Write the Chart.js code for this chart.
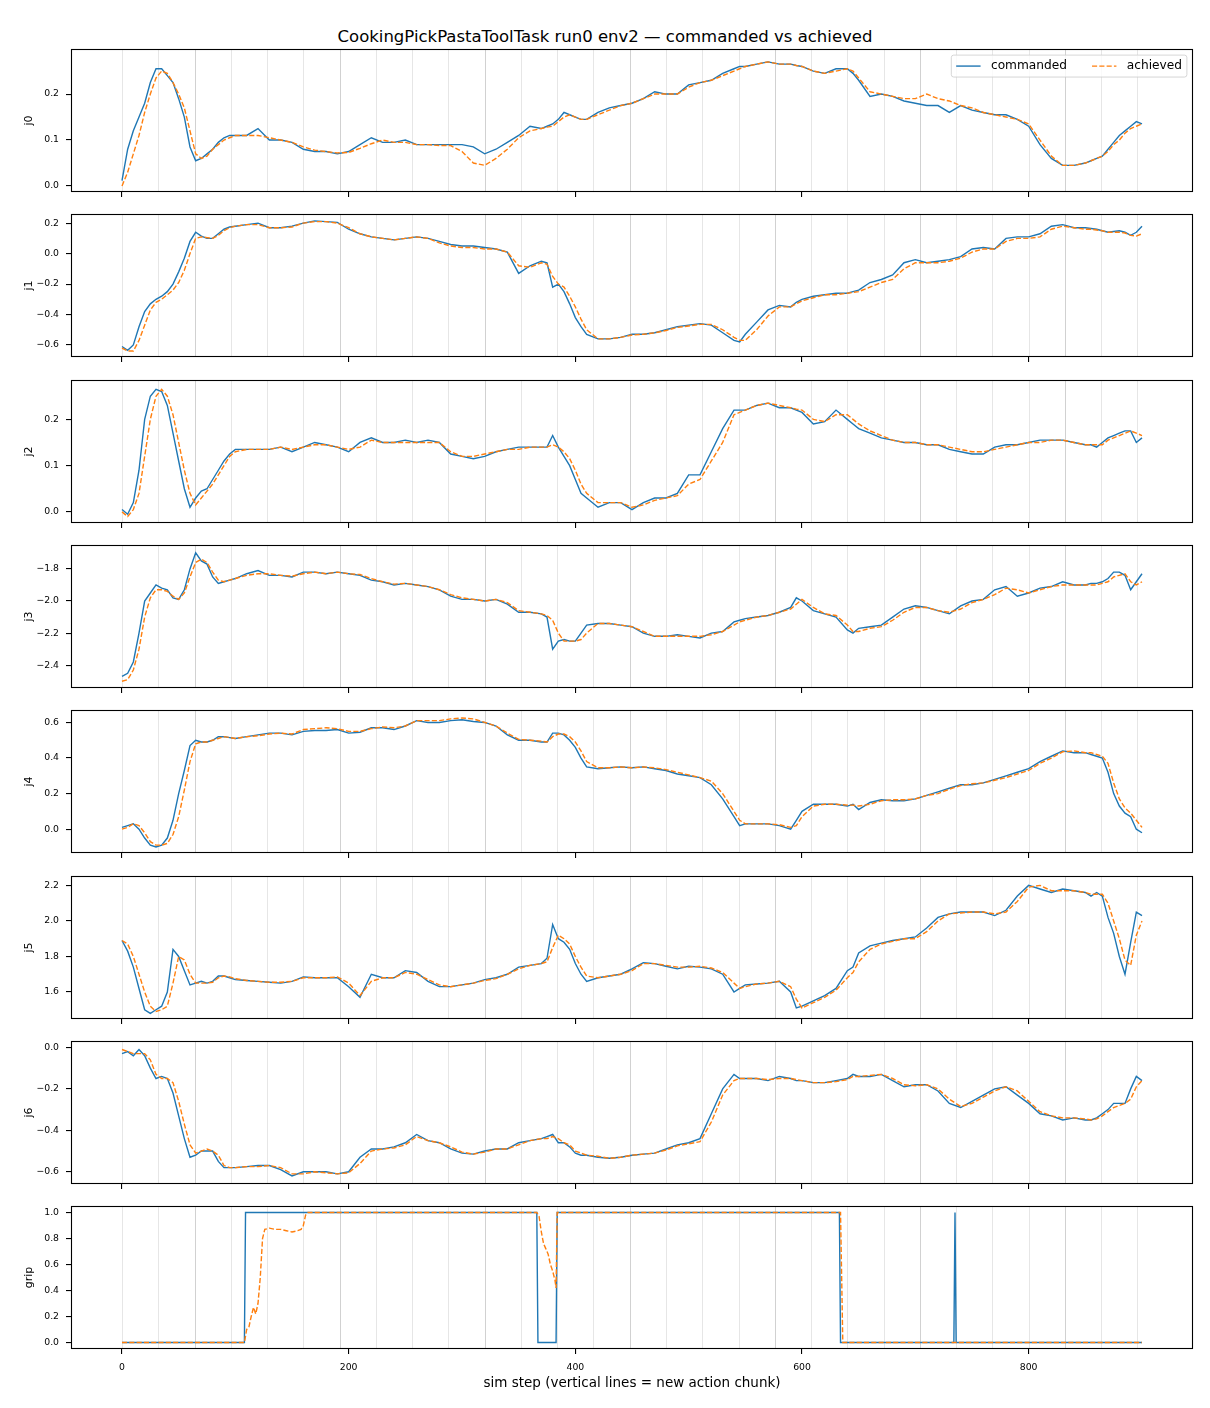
<!DOCTYPE html>
<html><head><meta charset="utf-8">
<script src="https://cdn.jsdelivr.net/npm/chart.js@4.4.1/dist/chart.umd.min.js"></script>
<style>
html,body{margin:0;padding:0;background:#fff;}
#fig{position:relative;width:1210px;height:1408px;overflow:hidden;background:#fff;}
.panel{position:absolute;left:0;width:1210px;}
#title{position:absolute;left:0;width:1210px;top:27px;line-height:20px;text-align:center;font-family:"DejaVu Sans";font-size:16.5px;color:#000;white-space:nowrap;}
</style></head><body>
<div id="fig"><div id="title">CookingPickPastaToolTask run0 env2 — commanded vs achieved</div></div>
<script>
// ---------------- data ----------------
const steps = [0,5,10,15,20,25,30,35,40,45,50,55,60,65,70,75,80,85,90,95,100,
  110,120,130,140,150,160,170,180,190,200,210,220,230,240,250,260,270,280,290,300,310,320,330,340,350,360,370,
  375,380,385,390,395,400,405,410,
  420,430,440,450,460,470,480,490,500,510,520,530,540,545,550,560,570,580,590,595,600,610,620,630,640,645,650,660,670,680,690,700,710,720,730,740,750,760,770,780,790,800,810,820,830,840,850,
  855,860,865,870,875,880,885,890,895,900];

const j0Cmd = [0.012,0.08,0.12,0.15,0.18,0.225,0.255,0.255,0.24,0.225,0.19,0.15,0.085,0.055,0.06,0.07,0.08,0.095,0.105,0.11,0.11,
  0.11,0.125,0.1,0.1,0.095,0.08,0.075,0.075,0.07,0.075,0.09,0.105,0.095,0.095,0.1,0.09,0.09,0.09,0.09,0.09,0.085,0.07,0.08,0.095,0.11,0.13,0.125,
  0.13,0.135,0.145,0.16,0.155,0.15,0.145,0.145,
  0.16,0.17,0.175,0.18,0.19,0.205,0.2,0.2,0.22,0.225,0.23,0.245,0.255,0.26,0.26,0.265,0.27,0.265,0.265,0.262,0.26,0.25,0.245,0.255,0.255,0.245,0.23,0.195,0.2,0.195,0.185,0.18,0.175,0.175,0.16,0.175,0.165,0.16,0.155,0.155,0.145,0.13,0.09,0.06,0.045,0.045,0.05,
  0.055,0.06,0.065,0.08,0.095,0.11,0.12,0.13,0.14,0.135];
const j0Ach = [0.0,0.03,0.07,0.11,0.16,0.2,0.235,0.25,0.245,0.225,0.2,0.17,0.12,0.07,0.06,0.065,0.08,0.09,0.1,0.105,0.11,
  0.11,0.11,0.105,0.1,0.095,0.085,0.078,0.075,0.072,0.073,0.082,0.092,0.1,0.095,0.095,0.09,0.09,0.088,0.088,0.075,0.05,0.045,0.06,0.08,0.105,0.12,0.125,
  0.128,0.13,0.14,0.15,0.155,0.15,0.145,0.145,
  0.155,0.165,0.175,0.18,0.19,0.2,0.2,0.2,0.215,0.225,0.23,0.24,0.25,0.255,0.26,0.265,0.27,0.265,0.265,0.262,0.26,0.25,0.245,0.25,0.255,0.25,0.235,0.205,0.2,0.195,0.19,0.19,0.2,0.19,0.185,0.175,0.17,0.16,0.155,0.15,0.145,0.135,0.1,0.065,0.045,0.045,0.05,
  0.055,0.06,0.065,0.075,0.09,0.1,0.115,0.125,0.13,0.135];

const j1Cmd = [-0.61,-0.635,-0.6,-0.48,-0.38,-0.33,-0.3,-0.28,-0.25,-0.2,-0.12,-0.03,0.08,0.14,0.115,0.1,0.1,0.13,0.16,0.175,0.18,
  0.19,0.2,0.17,0.17,0.18,0.2,0.215,0.21,0.205,0.16,0.13,0.11,0.1,0.09,0.1,0.11,0.1,0.08,0.06,0.05,0.05,0.04,0.03,0.01,-0.13,-0.08,-0.05,
  -0.06,-0.22,-0.2,-0.25,-0.33,-0.42,-0.48,-0.53,
  -0.56,-0.56,-0.55,-0.53,-0.53,-0.52,-0.5,-0.48,-0.47,-0.46,-0.47,-0.52,-0.57,-0.58,-0.53,-0.45,-0.37,-0.34,-0.35,-0.32,-0.3,-0.28,-0.27,-0.26,-0.26,-0.25,-0.24,-0.19,-0.17,-0.14,-0.06,-0.04,-0.06,-0.05,-0.04,-0.02,0.03,0.04,0.03,0.1,0.11,0.11,0.13,0.18,0.19,0.17,0.17,
  0.165,0.16,0.15,0.14,0.145,0.15,0.14,0.12,0.14,0.18];
const j1Ach = [-0.62,-0.64,-0.64,-0.57,-0.47,-0.37,-0.32,-0.3,-0.27,-0.24,-0.19,-0.11,0.0,0.1,0.11,0.105,0.1,0.12,0.15,0.17,0.18,
  0.19,0.19,0.17,0.17,0.175,0.2,0.21,0.21,0.2,0.17,0.13,0.11,0.1,0.09,0.1,0.11,0.1,0.07,0.05,0.04,0.04,0.03,0.03,0.01,-0.08,-0.09,-0.06,
  -0.07,-0.15,-0.2,-0.22,-0.28,-0.35,-0.43,-0.5,
  -0.56,-0.56,-0.55,-0.535,-0.53,-0.52,-0.505,-0.485,-0.475,-0.465,-0.465,-0.5,-0.55,-0.57,-0.57,-0.5,-0.41,-0.35,-0.35,-0.33,-0.31,-0.29,-0.27,-0.27,-0.26,-0.255,-0.25,-0.22,-0.19,-0.17,-0.1,-0.06,-0.06,-0.06,-0.05,-0.03,0.01,0.03,0.03,0.08,0.1,0.1,0.11,0.16,0.18,0.17,0.16,
  0.16,0.155,0.15,0.14,0.14,0.14,0.135,0.12,0.115,0.13];

const j2Cmd = [0.005,-0.005,0.02,0.09,0.2,0.25,0.265,0.26,0.23,0.17,0.11,0.05,0.01,0.03,0.045,0.05,0.07,0.09,0.11,0.125,0.135,
  0.135,0.135,0.135,0.14,0.13,0.14,0.15,0.145,0.14,0.13,0.15,0.16,0.15,0.15,0.155,0.15,0.155,0.15,0.125,0.12,0.115,0.12,0.13,0.135,0.14,0.14,0.14,
  0.14,0.165,0.14,0.12,0.1,0.07,0.04,0.03,
  0.01,0.02,0.02,0.005,0.02,0.03,0.03,0.04,0.08,0.08,0.13,0.18,0.22,0.22,0.22,0.23,0.235,0.225,0.225,0.22,0.215,0.19,0.195,0.22,0.2,0.19,0.18,0.17,0.16,0.155,0.15,0.15,0.145,0.145,0.135,0.13,0.125,0.125,0.14,0.145,0.145,0.15,0.155,0.155,0.155,0.15,0.145,
  0.145,0.14,0.15,0.16,0.165,0.17,0.175,0.175,0.15,0.16];
const j2Ach = [0.0,-0.01,0.005,0.04,0.12,0.2,0.25,0.265,0.25,0.21,0.15,0.09,0.04,0.015,0.03,0.045,0.06,0.08,0.1,0.12,0.13,
  0.135,0.135,0.135,0.14,0.135,0.14,0.145,0.145,0.14,0.135,0.14,0.155,0.15,0.15,0.15,0.15,0.15,0.15,0.13,0.12,0.12,0.125,0.13,0.135,0.135,0.14,0.14,
  0.14,0.145,0.14,0.13,0.115,0.09,0.06,0.04,
  0.02,0.02,0.02,0.01,0.015,0.025,0.03,0.035,0.06,0.07,0.11,0.15,0.21,0.215,0.22,0.23,0.235,0.23,0.225,0.222,0.22,0.2,0.195,0.21,0.21,0.2,0.19,0.175,0.165,0.155,0.15,0.15,0.145,0.145,0.14,0.135,0.13,0.13,0.135,0.14,0.145,0.15,0.15,0.155,0.155,0.15,0.145,
  0.145,0.145,0.145,0.155,0.16,0.165,0.17,0.175,0.17,0.165];

const j3Cmd = [-2.47,-2.45,-2.38,-2.2,-2.0,-1.95,-1.9,-1.92,-1.93,-1.98,-1.99,-1.93,-1.8,-1.7,-1.75,-1.77,-1.85,-1.89,-1.88,-1.87,-1.86,
  -1.83,-1.81,-1.84,-1.84,-1.85,-1.82,-1.82,-1.83,-1.82,-1.83,-1.84,-1.87,-1.88,-1.9,-1.89,-1.9,-1.91,-1.93,-1.97,-1.99,-1.99,-2.0,-1.99,-2.02,-2.07,-2.07,-2.08,
  -2.1,-2.3,-2.25,-2.24,-2.25,-2.25,-2.2,-2.15,
  -2.14,-2.14,-2.15,-2.16,-2.2,-2.22,-2.22,-2.21,-2.22,-2.23,-2.2,-2.19,-2.13,-2.12,-2.11,-2.1,-2.09,-2.07,-2.04,-1.98,-2.0,-2.06,-2.08,-2.1,-2.18,-2.2,-2.17,-2.16,-2.15,-2.1,-2.05,-2.03,-2.04,-2.06,-2.08,-2.03,-2.0,-1.99,-1.93,-1.91,-1.97,-1.95,-1.92,-1.91,-1.88,-1.9,-1.9,
  -1.89,-1.89,-1.88,-1.86,-1.82,-1.82,-1.84,-1.93,-1.88,-1.83];
const j3Ach = [-2.5,-2.49,-2.43,-2.3,-2.1,-1.98,-1.93,-1.93,-1.94,-1.97,-1.99,-1.95,-1.85,-1.76,-1.74,-1.76,-1.82,-1.87,-1.88,-1.87,-1.86,
  -1.84,-1.83,-1.83,-1.84,-1.845,-1.83,-1.82,-1.83,-1.82,-1.83,-1.835,-1.86,-1.88,-1.895,-1.89,-1.9,-1.91,-1.93,-1.96,-1.98,-1.99,-2.0,-1.99,-2.01,-2.06,-2.07,-2.08,
  -2.09,-2.12,-2.2,-2.25,-2.25,-2.25,-2.24,-2.2,
  -2.14,-2.14,-2.15,-2.16,-2.19,-2.22,-2.22,-2.22,-2.22,-2.22,-2.21,-2.19,-2.15,-2.13,-2.12,-2.1,-2.09,-2.07,-2.05,-2.02,-1.99,-2.04,-2.08,-2.09,-2.15,-2.19,-2.19,-2.17,-2.16,-2.12,-2.07,-2.04,-2.04,-2.06,-2.07,-2.05,-2.01,-1.99,-1.96,-1.92,-1.93,-1.95,-1.93,-1.91,-1.9,-1.9,-1.9,
  -1.9,-1.9,-1.89,-1.88,-1.85,-1.84,-1.83,-1.88,-1.9,-1.88];

const j4Cmd = [0.01,0.02,0.03,0.0,-0.05,-0.09,-0.1,-0.09,-0.05,0.05,0.2,0.33,0.47,0.5,0.49,0.49,0.5,0.52,0.52,0.515,0.51,
  0.52,0.53,0.54,0.54,0.53,0.55,0.555,0.555,0.56,0.54,0.545,0.57,0.57,0.56,0.58,0.61,0.6,0.6,0.61,0.615,0.605,0.6,0.58,0.53,0.5,0.5,0.49,
  0.49,0.54,0.54,0.53,0.5,0.46,0.4,0.35,
  0.34,0.345,0.35,0.345,0.35,0.34,0.33,0.31,0.3,0.29,0.25,0.17,0.07,0.02,0.03,0.03,0.03,0.02,0.0,0.05,0.1,0.14,0.14,0.14,0.13,0.14,0.11,0.15,0.165,0.16,0.16,0.17,0.19,0.21,0.23,0.25,0.25,0.26,0.28,0.3,0.32,0.34,0.38,0.41,0.44,0.43,0.43,
  0.42,0.41,0.4,0.32,0.2,0.13,0.09,0.07,0.0,-0.02];
const j4Ach = [0.0,0.01,0.03,0.02,-0.02,-0.07,-0.09,-0.09,-0.08,-0.03,0.07,0.22,0.38,0.48,0.49,0.49,0.5,0.51,0.52,0.515,0.51,
  0.52,0.525,0.535,0.54,0.535,0.56,0.565,0.57,0.565,0.55,0.55,0.565,0.575,0.57,0.58,0.61,0.61,0.61,0.62,0.625,0.62,0.6,0.58,0.54,0.505,0.5,0.495,
  0.49,0.52,0.535,0.535,0.52,0.49,0.44,0.38,
  0.345,0.345,0.35,0.345,0.35,0.345,0.335,0.32,0.305,0.29,0.27,0.2,0.1,0.05,0.03,0.03,0.03,0.025,0.01,0.02,0.07,0.13,0.14,0.14,0.135,0.135,0.13,0.14,0.16,0.165,0.165,0.17,0.19,0.2,0.225,0.245,0.255,0.26,0.275,0.29,0.31,0.33,0.37,0.4,0.435,0.44,0.43,
  0.43,0.42,0.41,0.37,0.26,0.17,0.12,0.09,0.05,0.01];

const j5Cmd = [1.89,1.83,1.74,1.62,1.5,1.48,1.5,1.52,1.6,1.84,1.8,1.72,1.64,1.65,1.66,1.65,1.66,1.69,1.69,1.68,1.67,
  1.665,1.66,1.655,1.65,1.66,1.685,1.68,1.68,1.68,1.63,1.57,1.7,1.68,1.68,1.72,1.71,1.66,1.63,1.63,1.64,1.65,1.67,1.68,1.7,1.74,1.75,1.76,
  1.79,1.98,1.9,1.88,1.84,1.76,1.7,1.66,
  1.68,1.69,1.7,1.73,1.765,1.76,1.745,1.73,1.745,1.74,1.73,1.7,1.6,1.62,1.64,1.645,1.65,1.66,1.6,1.51,1.52,1.55,1.58,1.62,1.72,1.74,1.82,1.86,1.875,1.89,1.9,1.91,1.96,2.02,2.04,2.05,2.05,2.05,2.03,2.06,2.14,2.2,2.18,2.16,2.18,2.17,2.16,
  2.14,2.16,2.14,2.02,1.93,1.8,1.7,1.88,2.05,2.03];
const j5Ach = [1.89,1.87,1.8,1.7,1.6,1.52,1.49,1.5,1.52,1.65,1.8,1.78,1.7,1.65,1.65,1.65,1.655,1.68,1.69,1.685,1.675,
  1.665,1.66,1.655,1.655,1.66,1.68,1.68,1.68,1.685,1.65,1.58,1.66,1.68,1.68,1.71,1.7,1.67,1.64,1.63,1.64,1.65,1.665,1.675,1.7,1.73,1.75,1.76,
  1.77,1.85,1.92,1.9,1.87,1.8,1.74,1.69,
  1.68,1.69,1.7,1.72,1.76,1.76,1.75,1.74,1.74,1.745,1.735,1.71,1.65,1.62,1.63,1.645,1.65,1.66,1.63,1.56,1.51,1.54,1.57,1.61,1.68,1.71,1.77,1.84,1.87,1.885,1.9,1.9,1.94,2.0,2.04,2.045,2.05,2.05,2.04,2.05,2.11,2.19,2.2,2.17,2.17,2.17,2.16,
  2.15,2.15,2.15,2.1,2.0,1.9,1.78,1.75,1.92,2.0];

const j6Cmd = [-0.03,-0.02,-0.04,-0.01,-0.04,-0.1,-0.15,-0.14,-0.15,-0.22,-0.33,-0.44,-0.53,-0.52,-0.5,-0.5,-0.5,-0.55,-0.58,-0.58,-0.58,
  -0.575,-0.57,-0.57,-0.59,-0.62,-0.6,-0.6,-0.6,-0.61,-0.6,-0.53,-0.49,-0.49,-0.48,-0.46,-0.42,-0.45,-0.46,-0.49,-0.51,-0.515,-0.5,-0.49,-0.49,-0.46,-0.45,-0.44,
  -0.43,-0.42,-0.46,-0.46,-0.48,-0.51,-0.52,-0.52,
  -0.53,-0.535,-0.53,-0.52,-0.515,-0.51,-0.49,-0.47,-0.46,-0.44,-0.32,-0.2,-0.13,-0.15,-0.15,-0.15,-0.16,-0.14,-0.15,-0.16,-0.16,-0.17,-0.17,-0.16,-0.15,-0.13,-0.14,-0.14,-0.13,-0.16,-0.19,-0.18,-0.18,-0.21,-0.27,-0.29,-0.26,-0.23,-0.2,-0.19,-0.23,-0.27,-0.32,-0.33,-0.35,-0.34,-0.35,
  -0.35,-0.34,-0.32,-0.3,-0.27,-0.27,-0.27,-0.2,-0.14,-0.16];
const j6Ach = [-0.01,-0.02,-0.03,-0.03,-0.03,-0.06,-0.13,-0.15,-0.15,-0.17,-0.26,-0.37,-0.47,-0.51,-0.5,-0.49,-0.5,-0.52,-0.57,-0.58,-0.58,
  -0.575,-0.575,-0.57,-0.58,-0.61,-0.61,-0.6,-0.605,-0.61,-0.605,-0.56,-0.5,-0.49,-0.485,-0.47,-0.43,-0.45,-0.46,-0.48,-0.505,-0.515,-0.505,-0.49,-0.49,-0.47,-0.45,-0.44,
  -0.44,-0.43,-0.44,-0.46,-0.47,-0.5,-0.51,-0.52,
  -0.525,-0.535,-0.53,-0.52,-0.515,-0.51,-0.495,-0.475,-0.465,-0.455,-0.36,-0.23,-0.16,-0.15,-0.15,-0.15,-0.155,-0.15,-0.15,-0.155,-0.16,-0.17,-0.17,-0.165,-0.155,-0.14,-0.14,-0.135,-0.13,-0.15,-0.18,-0.185,-0.18,-0.2,-0.25,-0.285,-0.27,-0.24,-0.21,-0.19,-0.21,-0.26,-0.31,-0.33,-0.34,-0.34,-0.345,
  -0.35,-0.345,-0.33,-0.31,-0.29,-0.28,-0.27,-0.25,-0.19,-0.16];

const gripCmdSteps = [0,108,109,366,367,383,384,633,634,734,735,736,900];
const gripCmd      = [0,0,1,1,0,0,1,1,0,0,1,0,0];
const gripAchSteps = [0,108,110,112,114,116,118,120,122,124,126,130,135,140,145,150,155,158,160,162,164,200,366,368,370,372,374,376,378,380,382,383,384,634,636,900];
const gripAch      = [0,0,0.1,0.12,0.2,0.27,0.22,0.3,0.5,0.8,0.87,0.88,0.87,0.87,0.86,0.85,0.86,0.87,0.9,0.98,1,1,1,0.97,0.85,0.76,0.72,0.68,0.6,0.55,0.48,0.42,1,1,0,0];

const chunkStarts = [0,32,64,96,128,160,192,224,256,288,320,352,384,416,448,480,512,544,576,608,640,672,704,736,768,800,832,864,896];
const repeatedChunks = [64,192,320,448,576,704,832];

const xTicks = [0,200,400,600,800];
const j0Ticks = [0.0,0.1,0.2];
const j1Ticks = [-0.6,-0.4,-0.2,0.0,0.2];
const j2Ticks = [0.0,0.1,0.2];
const j3Ticks = [-2.4,-2.2,-2.0,-1.8];
const j4Ticks = [0.0,0.2,0.4,0.6];
const j5Ticks = [1.6,1.8,2.0,2.2];
const j6Ticks = [-0.6,-0.4,-0.2,0.0];
const gripTicks = [0.0,0.2,0.4,0.6,0.8,1.0];

const panelNames = ['j0','j1','j2','j3','j4','j5','j6','grip'];

// ---------------- layout / style ----------------
const FIG_W = 1210, AREA_LEFT = 71, AREA_RIGHT = 1193, PAD_TOP = 16, PANEL_H = 143;
const panelTops = [49,214,380,545,710,876,1041,1206];
const yRanges = [[-0.013,0.298],[-0.679,0.26],[-0.024,0.285],[-2.542,-1.651],[-0.134,0.67],[1.448,2.253],[-0.659,0.031],[-0.05,1.05]];
const BLUE = '#1f77b4', ORANGE = '#ff7f0e';
const FONT = 'DejaVu Sans';

function pts(xs, ys){ return xs.map((x,i)=>({x:x, y:ys[i]})); }
function fmtY(v){ let s = (Math.abs(v)<1e-9?0:v).toFixed(1); return s.replace('-', '\u2212'); }

const panels = [
  {cmd:pts(steps,j0Cmd), ach:pts(steps,j0Ach), ticks:j0Ticks},
  {cmd:pts(steps,j1Cmd), ach:pts(steps,j1Ach), ticks:j1Ticks},
  {cmd:pts(steps,j2Cmd), ach:pts(steps,j2Ach), ticks:j2Ticks},
  {cmd:pts(steps,j3Cmd), ach:pts(steps,j3Ach), ticks:j3Ticks},
  {cmd:pts(steps,j4Cmd), ach:pts(steps,j4Ach), ticks:j4Ticks},
  {cmd:pts(steps,j5Cmd), ach:pts(steps,j5Ach), ticks:j5Ticks},
  {cmd:pts(steps,j6Cmd), ach:pts(steps,j6Ach), ticks:j6Ticks},
  {cmd:pts(gripCmdSteps,gripCmd), ach:pts(gripAchSteps,gripAch), ticks:gripTicks}
];

const chunkPlugin = {
  id:'chunkLines',
  beforeDatasetsDraw(chart){
    const {ctx, chartArea:a, scales:{x}} = chart;
    ctx.save();
    ctx.lineWidth = 1;
    chunkStarts.forEach(s=>{
      const px = Math.round(x.getPixelForValue(s)) + 0.5;
      ctx.strokeStyle = repeatedChunks.includes(s) ? 'rgba(128,128,128,0.36)' : 'rgba(128,128,128,0.2)';
      ctx.beginPath(); ctx.moveTo(px, a.top); ctx.lineTo(px, a.bottom); ctx.stroke();
    });
    ctx.restore();
  }
};
const framePlugin = {
  id:'frame',
  afterDraw(chart){
    const {ctx, chartArea:a} = chart;
    ctx.save();
    ctx.strokeStyle = '#000'; ctx.lineWidth = 1.1;
    ctx.strokeRect(Math.round(a.left)+0.5, Math.round(a.top)+0.5, Math.round(a.width)-1, Math.round(a.height)-1);
    ctx.restore();
  }
};
const legendPlugin = {
  id:'mplLegend',
  afterDraw(chart){
    const {ctx, chartArea:a} = chart;
    const fs = 12.2;
    ctx.save();
    ctx.font = fs + 'px "' + FONT + '"';
    const items = [chart.data.datasets[0], chart.data.datasets[1]];
    const bp = 0.4*fs, hl = 2.0*fs, htp = 0.85*fs, cs = 2.05*fs;
    const widths = items.map(d=>ctx.measureText(d.label).width);
    const w = 2*bp + 2*(hl+htp) + widths[0] + widths[1] + cs;
    const h = 2*bp + fs*1.0;
    const right = a.right - 0.5*fs, top = a.top + 0.5*fs;
    const left = right - w;
    const r = 0.2*fs;
    ctx.beginPath();
    ctx.moveTo(left+r, top); ctx.lineTo(right-r, top); ctx.arcTo(right, top, right, top+r, r);
    ctx.lineTo(right, top+h-r); ctx.arcTo(right, top+h, right-r, top+h, r);
    ctx.lineTo(left+r, top+h); ctx.arcTo(left, top+h, left, top+h-r, r);
    ctx.lineTo(left, top+r); ctx.arcTo(left, top, left+r, top, r);
    ctx.closePath();
    ctx.fillStyle = 'rgba(255,255,255,0.8)'; ctx.fill();
    ctx.strokeStyle = 'rgba(204,204,204,0.8)'; ctx.lineWidth = 1; ctx.stroke();
    let x = left + bp;
    const cy = top + h/2;
    items.forEach((d,i)=>{
      ctx.beginPath();
      ctx.strokeStyle = d.borderColor; ctx.lineWidth = d.borderWidth;
      ctx.setLineDash(d.borderDash || []);
      ctx.moveTo(x, cy); ctx.lineTo(x+hl, cy); ctx.stroke();
      ctx.setLineDash([]);
      x += hl + htp;
      ctx.fillStyle = '#000'; ctx.textBaseline = 'middle'; ctx.textAlign = 'left';
      ctx.fillText(d.label, x, cy);
      x += widths[i] + cs;
    });
    ctx.restore();
  }
};

const fig = document.getElementById('fig');
panels.forEach((p, i)=>{
  const isLast = i === panels.length - 1;
  const xh = isLast ? 50 : 16;
  const div = document.createElement('div');
  div.className = 'panel';
  div.style.top = (panelTops[i] - PAD_TOP) + 'px';
  const cv = document.createElement('canvas');
  const H = PAD_TOP + PANEL_H + xh;
  cv.width = FIG_W; cv.height = H;
  cv.style.width = FIG_W + 'px'; cv.style.height = H + 'px';
  div.style.height = H + 'px';
  div.appendChild(cv); fig.appendChild(div);
  const tickGrid = {display:true, drawOnChartArea:false, drawTicks:true, tickLength:5, color:'#000', lineWidth:1.1};
  new Chart(cv.getContext('2d'), {
    type:'line',
    data:{datasets:[
      {label:'commanded', data:p.cmd, borderColor:BLUE, backgroundColor:BLUE, borderWidth:1.4, pointRadius:0, tension:0, order:1},
      {label:'achieved', data:p.ach, borderColor:ORANGE, backgroundColor:ORANGE, borderWidth:1.4, borderDash:[5.1,2.2], pointRadius:0, tension:0, order:0}
    ]},
    options:{
      responsive:false, animation:false, devicePixelRatio:1,
      layout:{padding:{left:0, right:FIG_W-AREA_RIGHT, top:PAD_TOP, bottom:0}},
      plugins:{legend:{display:false}, tooltip:{enabled:false}},
      events:[],
      scales:{
        x:{type:'linear', min:-45, max:945,
          afterBuildTicks:s=>{ s.ticks = xTicks.map(v=>({value:v})); },
          afterFit:s=>{ s.height = xh; },
          grid:tickGrid, border:{display:false},
          ticks:{display:isLast, color:'#000', font:{family:FONT, size:9.3}, padding:8, maxRotation:0, autoSkip:false, callback:v=>String(v)},
          title:{display:isLast, text:'sim step (vertical lines = new action chunk)', color:'#000', font:{family:FONT, size:13.5}, padding:{top:0, bottom:7}}
        },
        y:{type:'linear', min:yRanges[i][0], max:yRanges[i][1],
          afterBuildTicks:s=>{ s.ticks = p.ticks.map(v=>({value:v})); },
          afterFit:s=>{ s.width = AREA_LEFT; },
          grid:tickGrid, border:{display:false},
          ticks:{color:'#000', font:{family:FONT, size:9.3}, padding:7, autoSkip:false, callback:v=>fmtY(v)},
          title:{display:true, text:panelNames[i], color:'#000', font:{family:FONT, size:11}, padding:{top:23, bottom:0}}
        }
      }
    },
    plugins: i === 0 ? [chunkPlugin, framePlugin, legendPlugin] : [chunkPlugin, framePlugin]
  });
});
</script>
</body></html>
